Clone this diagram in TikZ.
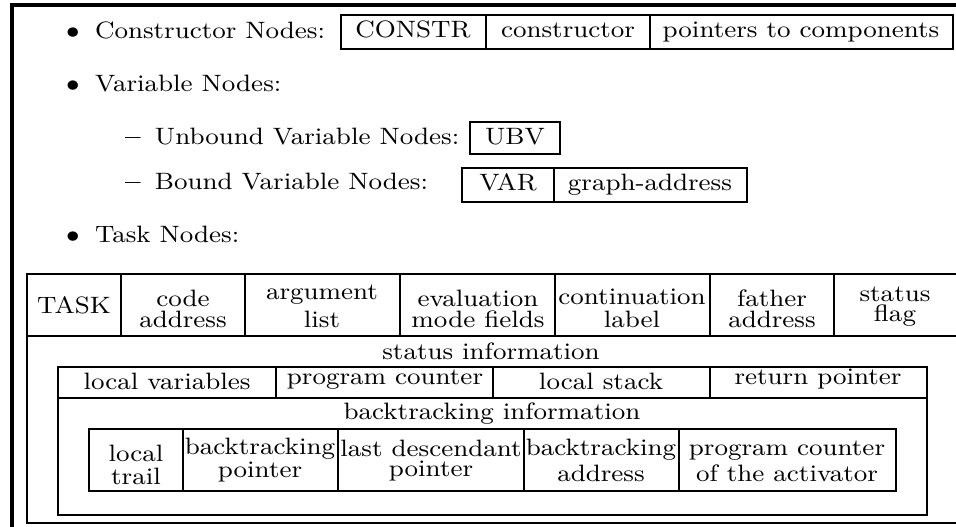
\documentclass[tikz,border=0pt]{standalone}
\usepackage{graphicx}
\newcommand\stx[1]{\scalebox{1.11}[1]{#1}}
\begin{document}
\begin{tikzpicture}[x=0.38pt,y=-0.38pt,
  frameln/.style={line width=1.2pt},
  boldbox/.style={line width=1.1pt},
  cellln/.style={line width=0.8pt},
  txt/.style={inner sep=0pt,outer sep=0pt,anchor=base,font=\fontsize{9}{11}\selectfont},
  ltxt/.style={inner sep=0pt,outer sep=0pt,anchor=base west,font=\fontsize{9}{11}\selectfont}]
\useasboundingbox (0,0) rectangle (956,527);
% outer frame
\draw[frameln] (956,5) -- (12,5) -- (12,527);

% list items
\node[txt] (b1) at (73,39) {\stx{$\bullet$}};
\node[ltxt] (l1) at (95,39) {\stx{Constructor Nodes:}};
\node[txt] (b2) at (73,92) {\stx{$\bullet$}};
\node[ltxt] (l2) at (95,92) {\stx{Variable Nodes:}};
\node[txt] (d1) at (133,145) {\stx{\textbf{\textendash}}};
\node[ltxt] (l3) at (155,145) {\stx{Unbound Variable Nodes:}};
\node[txt] (d2) at (133,190) {\stx{\textbf{\textendash}}};
\node[ltxt] (l4) at (155,190) {\stx{Bound Variable Nodes:}};
\node[txt] (b3) at (73,243) {\stx{$\bullet$}};
\node[ltxt] (l5) at (95,243) {\stx{Task Nodes:}};

% constructor node
\draw[boldbox] (341,15) rectangle (953,49);
\draw[cellln] (486,15) -- (486,49) (650,15) -- (650,49);
\node[txt] (c1) at (413,38) {\stx{CONSTR}};
\node[txt] (c2) at (568,38) {\stx{constructor}};
\node[txt] (c3) at (801,38) {\stx{pointers to components}};

% unbound variable node
\draw[boldbox] (470,122) rectangle (560,154);
\node[txt] (u1) at (515,145) {\stx{UBV}};

% bound variable node
\draw[cellln] (462,168) rectangle (747,202);
\draw[cellln] (554,168) -- (554,202);
\node[txt] (v1) at (508,191) {\stx{VAR}};
\node[txt] (v2) at (650,191) {\stx{graph-address}};

% task node
\draw[boldbox] (956,274) -- (27,274) -- (27,523) -- (956,523);
\draw[boldbox] (27,336) -- (956,336);
\foreach \xx in {121,245,400,555,710,834} \draw[cellln] (\xx,274) -- (\xx,336);
\node[txt] (k1) at (74,314) {\stx{TASK}};
\node[txt] (k2a) at (183,307) {\stx{code}};
\node[txt] (k2b) at (183,328) {\stx{address}};
\node[txt] (k3a) at (322,300) {\stx{argument}};
\node[txt] (k3b) at (322,328) {\stx{list}};
\node[txt] (k4a) at (478,307) {\stx{evaluation}};
\node[txt] (k4b) at (478,328) {\stx{mode fields}};
\node[txt] (k5a) at (632,305) {\stx{continuation}};
\node[txt] (k5b) at (632,328) {\stx{label}};
\node[txt] (k6a) at (772,307) {\stx{father}};
\node[txt] (k6b) at (772,328) {\stx{address}};
\node[txt] (k7a) at (895,302) {\stx{status}};
\node[txt] (k7b) at (895,322) {\stx{flag}};

% status information
\node[txt] (s0) at (491,360) {\stx{status information}};
\draw[boldbox] (58,367) rectangle (927,515);
\draw[cellln] (58,398) -- (927,398);
\foreach \xx in {276,493,710} \draw[cellln] (\xx,367) -- (\xx,398);
\node[txt] (s1) at (167,390) {\stx{local variables}};
\node[txt] (s2) at (385,385) {\stx{program counter}};
\node[txt] (s3) at (601,390) {\stx{local stack}};
\node[txt] (s4) at (818,385) {\stx{return pointer}};

% backtracking information
\node[txt] (r0) at (492,420) {\stx{backtracking information}};
\draw[boldbox] (89,429) rectangle (896,491);
\foreach \xx in {183,338,524,679} \draw[cellln] (\xx,429) -- (\xx,491);
\node[txt] (r1a) at (136,462) {\stx{local}};
\node[txt] (r1b) at (136,485) {\stx{trail}};
\node[txt] (r2a) at (260,455) {\stx{backtracking}};
\node[txt] (r2b) at (260,478) {\stx{pointer}};
\node[txt] (r3a) at (431,457) {\stx{last descendant}};
\node[txt] (r3b) at (431,477) {\stx{pointer}};
\node[txt] (r4a) at (601,456) {\stx{backtracking}};
\node[txt] (r4b) at (601,482) {\stx{address}};
\node[txt] (r5a) at (787,456) {\stx{program counter}};
\node[txt] (r5b) at (787,482) {\stx{of the activator}};
\end{tikzpicture}
\end{document}
